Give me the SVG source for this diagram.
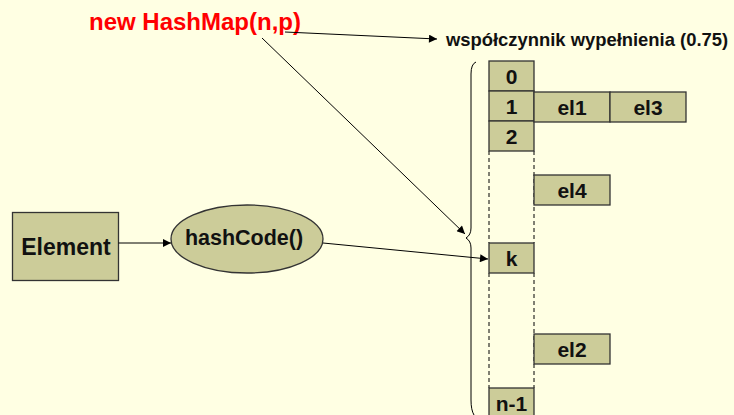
<svg xmlns="http://www.w3.org/2000/svg" width="734" height="415" viewBox="0 0 734 415">
<defs>
<style>
.box{fill:#CCCC99;stroke:#333333;stroke-width:1.3}
.t{font-family:"Liberation Sans",Arial,sans-serif;font-weight:bold;fill:#111;text-anchor:middle}
.ln{stroke:#000;stroke-width:1;fill:none}
.dash{stroke:#000;stroke-width:1;stroke-dasharray:4,3;fill:none}
</style>
<marker id="ah" viewBox="0 0 10 10" refX="10" refY="5" markerWidth="10" markerHeight="8" markerUnits="userSpaceOnUse" orient="auto">
<path d="M0,0 L10,5 L0,10 z" fill="#000"/>
</marker>
</defs>
<rect width="734" height="415" fill="#FFFFE3"/>

<g id="title">
<text x="89" y="30" font-family="Liberation Sans,Arial,sans-serif" font-weight="bold" font-size="24" fill="#FF0000">new HashMap(n,p)</text>
</g>
<g id="loadfactor">
<text x="446" y="46" font-family="Liberation Sans,Arial,sans-serif" font-weight="bold" font-size="18.4" fill="#111">współczynnik wypełnienia (0.75)</text>
</g>

<g id="brace">
<path class="ln" d="M476,62 Q471,64 471,74 L471,228 Q471,235 466,238 Q471,241 471,248 L471,400 Q471,410 474,415"/>
</g>

<g id="table">
<path class="dash" d="M489,151 L489,243 M534,151 L534,243 M489,273 L489,388 M534,273 L534,388"/>
</g>
<g id="cell0"><rect class="box" x="489" y="61" width="45" height="30"/><text class="t" x="511.5" y="84" font-size="21">0</text></g>
<g id="cell1"><rect class="box" x="489" y="91" width="45" height="30"/><text class="t" x="511.5" y="114" font-size="21">1</text></g>
<g id="cell2"><rect class="box" x="489" y="121" width="45" height="30"/><text class="t" x="511.5" y="144" font-size="21">2</text></g>
<g id="cellk"><rect class="box" x="489" y="243" width="45" height="30"/><text class="t" x="511.5" y="266" font-size="21">k</text></g>
<g id="celln1"><rect class="box" x="489" y="388" width="45" height="32"/><text class="t" x="511.5" y="411" font-size="21">n-1</text></g>
<g id="el1"><rect class="box" x="534" y="92" width="76" height="30"/><text class="t" x="572" y="115" font-size="21">el1</text></g>
<g id="el3"><rect class="box" x="610" y="92" width="76" height="30"/><text class="t" x="648" y="115" font-size="21">el3</text></g>
<g id="el4"><rect class="box" x="534" y="175" width="76" height="30"/><text class="t" x="572" y="198" font-size="21">el4</text></g>
<g id="el2"><rect class="box" x="534" y="334" width="76" height="30"/><text class="t" x="572" y="357" font-size="21">el2</text></g>

<g id="element"><rect class="box" x="12.5" y="212.5" width="106" height="68"/><text class="t" x="66" y="255" font-size="23">Element</text></g>
<g id="hashcode"><ellipse class="box" cx="247" cy="239" rx="76" ry="34"/><text class="t" x="244" y="245" font-size="21.5">hashCode()</text></g>

<g id="connectors">
<line class="ln" x1="118.5" y1="243" x2="171" y2="243" marker-end="url(#ah)"/>
<line class="ln" x1="323" y1="243" x2="488" y2="259" marker-end="url(#ah)"/>
<line class="ln" x1="262" y1="38" x2="465" y2="234" marker-end="url(#ah)"/>
<line class="ln" x1="285" y1="32" x2="437" y2="39" marker-end="url(#ah)"/>
</g>
</svg>
